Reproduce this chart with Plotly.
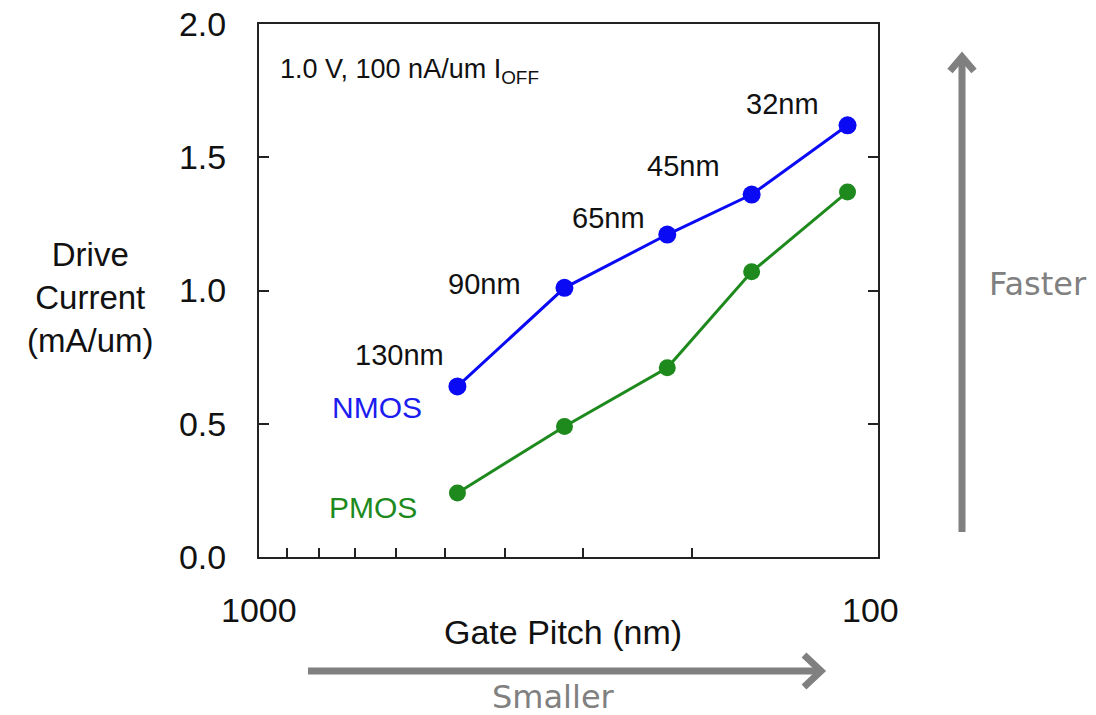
import numpy as np
import plotly.graph_objects as go

# ---- data ----
nodes = ["130nm", "90nm", "65nm", "45nm", "32nm"]
gate_pitch = [478, 321, 219, 160, 112]          # nm
nmos_current = [0.64, 1.01, 1.21, 1.36, 1.62]   # mA/um
pmos_current = [0.24, 0.49, 0.71, 1.07, 1.37]   # mA/um
y_ticks = [0.0, 0.5, 1.0, 1.5, 2.0]
x_minor_ticks = [900, 800, 700, 600, 500, 400, 300, 200]
x_tick_labels = ["1000", "100"]

# ---- layout geometry (screen pixels; page body margin removed below) ----
W, H = 1096, 715
OFF = 0
L, R, T, B = 259, 878, 24, 557


def px(x):
    return (x - L) / (R - L)


def py(y):
    return (B - y) / (B - T)


BLUE = "#0a0af5"
GREEN = "#1e8a1e"
GRAY = "#808080"
ARIAL = "Liberation Sans, Arial, sans-serif"
VERD = "DejaVu Sans, Verdana, sans-serif"
INK = "#111111"

fig = go.Figure()
fig.add_trace(go.Scatter(x=gate_pitch, y=nmos_current, mode="lines+markers",
                         line=dict(color=BLUE, width=3),
                         marker=dict(color=BLUE, size=18), name="NMOS"))
fig.add_trace(go.Scatter(x=gate_pitch, y=pmos_current, mode="lines+markers",
                         line=dict(color=GREEN, width=3),
                         marker=dict(color=GREEN, size=17), name="PMOS"))

ann = []
# node labels near NMOS points
shifts = [(-58, 31), (-80, 4), (-59, 17), (-68, 29), (-65, 21)]
for n, xv, yv, (dx, dy) in zip(nodes, gate_pitch, nmos_current, shifts):
    ann.append(dict(x=np.log10(xv), y=yv, xref="x", yref="y", text=n,
                    showarrow=False, xshift=dx, yshift=dy,
                    xanchor="center", yanchor="middle",
                    font=dict(family=ARIAL, size=29, color=INK)))

ann.append(dict(x=np.log10(gate_pitch[0]), y=nmos_current[0], xref="x", yref="y",
                text="NMOS", showarrow=False, xshift=-80, yshift=-21,
                xanchor="center", yanchor="middle",
                font=dict(family=ARIAL, size=30, color="#1c1cf0")))
ann.append(dict(x=np.log10(gate_pitch[0]), y=pmos_current[0], xref="x", yref="y",
                text="PMOS", showarrow=False, xshift=-84, yshift=-14,
                xanchor="center", yanchor="middle",
                font=dict(family=ARIAL, size=30, color=GREEN)))


def paper_text(x, y, text, size, color=INK, family=ARIAL, xanchor="center"):
    ann.append(dict(x=px(x), y=py(y), xref="paper", yref="paper", text=text,
                    showarrow=False, xanchor=xanchor, yanchor="middle",
                    font=dict(family=family, size=size, color=color)))


paper_text(278, 71, "1.0 V, 100 nA/um I<sub>OFF</sub>", 27, xanchor="left")
paper_text(90, 297, "Drive<br>Current<br>(mA/um)", 33)
paper_text(259, 610, x_tick_labels[0], 34)
paper_text(870, 610, x_tick_labels[1], 34)
paper_text(563, 632, "Gate Pitch (nm)", 34)
paper_text(553, 697, "Smaller", 32, GRAY, VERD)
paper_text(1038, 284, "Faster", 32, GRAY, VERD)

shapes = []
# horizontal arrow
shapes.append(dict(type="line", xref="paper", yref="paper", x0=px(308), y0=py(671),
                   x1=px(820), y1=py(671), line=dict(color=GRAY, width=7)))
shapes.append(dict(type="path", xref="paper", yref="paper",
                   path=f"M {px(804)} {py(655)} L {px(821)} {py(671)} L {px(804)} {py(687)}",
                   line=dict(color=GRAY, width=7)))
# vertical arrow
shapes.append(dict(type="line", xref="paper", yref="paper", x0=px(962), y0=py(532),
                   x1=px(962), y1=py(58), line=dict(color=GRAY, width=7)))
shapes.append(dict(type="path", xref="paper", yref="paper",
                   path=f"M {px(950)} {py(71)} L {px(962)} {py(57)} L {px(974)} {py(71)}",
                   line=dict(color=GRAY, width=7)))

fig.update_layout(
    width=W, height=H,
    margin=dict(l=L - OFF, r=W - (R - OFF), t=T - OFF, b=H - (B - OFF), pad=0,
                autoexpand=False),
    paper_bgcolor="white", plot_bgcolor="white",
    showlegend=False,
    annotations=ann, shapes=shapes,
    xaxis=dict(type="log", range=[3, 2], showgrid=False, zeroline=False,
               automargin=False,
               showline=True, linecolor="#222222", linewidth=2, mirror=True,
               tickmode="array", tickvals=x_minor_ticks, showticklabels=False,
               ticks="inside", ticklen=9, tickwidth=2, tickcolor="#222222"),
    yaxis=dict(range=[0, 2], showgrid=False, zeroline=False,
               automargin=False,
               showline=True, linecolor="#222222", linewidth=2, mirror="ticks",
               tickmode="array", tickvals=y_ticks, tickformat=".1f",
               ticks="inside", ticklen=10, tickwidth=2, tickcolor="#222222",
               tickfont=dict(family=ARIAL, size=34, color=INK),
               ticklabelstandoff=24, ticklabeloverflow="allow"),
)

fig.write_html("out.html", config={"displayModeBar": False},
               post_script="document.body.style.margin='0';document.body.style.padding='0';")
